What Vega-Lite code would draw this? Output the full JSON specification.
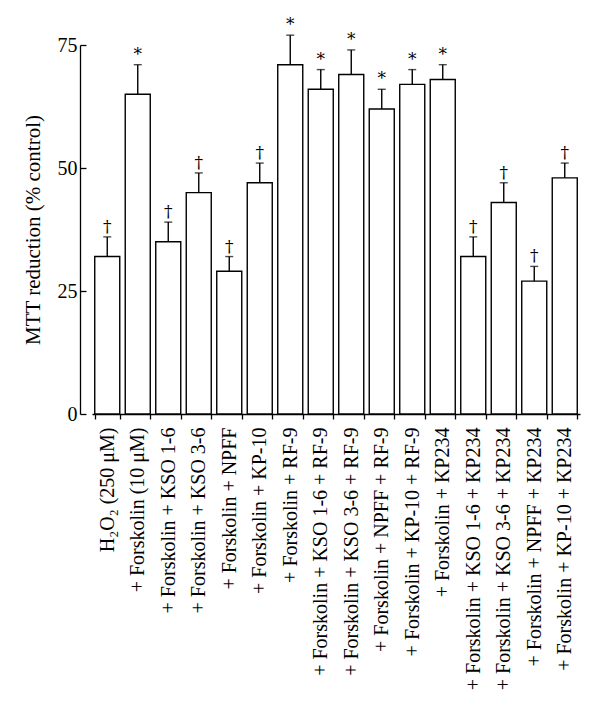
{
  "$schema": "https://vega.github.io/schema/vega-lite/v6.json",
  "width": 488,
  "height": 369,
  "autosize": "none",
  "padding": {"left": 92, "top": 45, "right": 20, "bottom": 294},
  "background": "white",
  "config": {
    "view": {"stroke": null},
    "font": "Liberation Serif",
    "axis": {"labelFont": "Liberation Serif", "titleFont": "Liberation Serif", "labelColor": "black", "titleColor": "black", "domainColor": "black", "tickColor": "black", "grid": false, "domainWidth": 1.3, "tickWidth": 1.3}
  },
  "data": {
    "values": [
      {"label": "H₂O₂ (250 μM)", "value": 32, "err": 36, "sig": "†"},
      {"label": "+ Forskolin (10 μM)", "value": 65, "err": 71, "sig": "*"},
      {"label": "+ Forskolin + KSO 1-6", "value": 35, "err": 39, "sig": "†"},
      {"label": "+ Forskolin + KSO 3-6", "value": 45, "err": 49, "sig": "†"},
      {"label": "+ Forskolin + NPFF", "value": 29, "err": 32, "sig": "†"},
      {"label": "+ Forskolin + KP-10", "value": 47, "err": 51, "sig": "†"},
      {"label": "+ Forskolin + RF-9", "value": 71, "err": 77, "sig": "*"},
      {"label": "+ Forskolin + KSO 1-6 + RF-9", "value": 66, "err": 70, "sig": "*"},
      {"label": "+ Forskolin + KSO 3-6 + RF-9", "value": 69, "err": 74, "sig": "*"},
      {"label": "+ Forskolin + NPFF + RF-9", "value": 62, "err": 66, "sig": "*"},
      {"label": "+ Forskolin + KP-10 + RF-9", "value": 67, "err": 70, "sig": "*"},
      {"label": "+ Forskolin + KP234", "value": 68, "err": 71, "sig": "*"},
      {"label": "+ Forskolin + KSO 1-6 + KP234", "value": 32, "err": 36, "sig": "†"},
      {"label": "+ Forskolin + KSO 3-6 + KP234", "value": 43, "err": 47, "sig": "†"},
      {"label": "+ Forskolin + NPFF + KP234", "value": 27, "err": 30, "sig": "†"},
      {"label": "+ Forskolin + KP-10 + KP234", "value": 48, "err": 51, "sig": "†"}
    ]
  },
  "encoding": {
    "x": {
      "field": "label", "type": "nominal", "sort": null,
      "scale": {"paddingInner": 0.18, "paddingOuter": 0.09},
      "axis": {"title": null, "labelAngle": -90, "labelFontSize": 20, "labelLimit": 0, "labelPadding": 8, "tickSize": 5, "tickBand": "extent"}
    }
  },
  "layer": [
    {
      "mark": {"type": "bar", "fill": "white", "stroke": "black", "strokeWidth": 1.4},
      "encoding": {
        "y": {
          "field": "value", "type": "quantitative",
          "scale": {"domain": [0, 75], "nice": false},
          "axis": {"title": "MTT reduction (% control)", "titleFontSize": 21, "titleFontWeight": "normal", "titlePadding": 14, "labelFontSize": 20, "values": [0, 25, 50, 75], "tickSize": -6, "labelPadding": 9, "offset": 12}
        }
      }
    },
    {
      "mark": {"type": "rule", "color": "black", "strokeWidth": 1.4},
      "encoding": {
        "y": {"field": "value", "type": "quantitative"},
        "y2": {"field": "err"}
      }
    },
    {
      "mark": {"type": "tick", "color": "black", "thickness": 1.4, "size": 8},
      "encoding": {
        "y": {"field": "err", "type": "quantitative"}
      }
    },
    {
      "mark": {"type": "text", "font": "DejaVu Serif", "fontSize": 17, "baseline": "bottom", "dy": -1, "fill": "black"},
      "encoding": {
        "y": {"field": "err", "type": "quantitative"},
        "text": {"field": "sig"}
      }
    }
  ]
}
